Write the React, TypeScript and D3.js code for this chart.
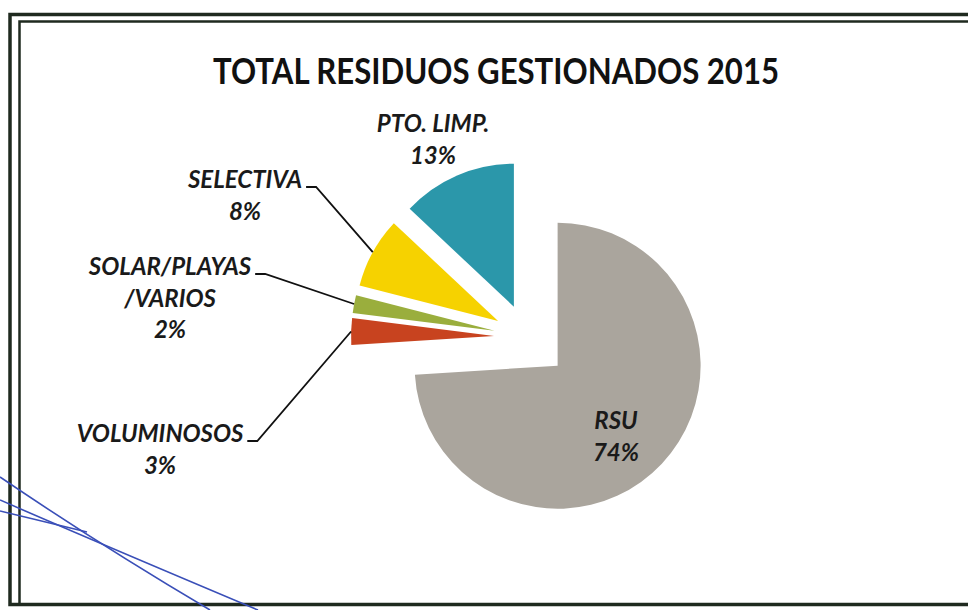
import React, { useEffect, useRef } from 'react';
import * as d3 from 'd3';

// chart data
const categories = ['RSU', 'VOLUMINOSOS', 'SOLAR/PLAYAS/VARIOS', 'SELECTIVA', 'PTO. LIMP.'];
const values = [74, 3, 2, 8, 13];
const labelLines = [['RSU'], ['VOLUMINOSOS'], ['SOLAR/PLAYAS', '/VARIOS'], ['SELECTIVA'], ['PTO. LIMP.']];
const title = 'TOTAL RESIDUOS GESTIONADOS 2015';

// styling
const colors = ['#aaa59d', '#c8431f', '#9aae3d', '#f6d200', '#2b97aa'];
const explode = [42, 33, 33, 33, 33];
const labelLayout = [
  { x: 616, y: 429, leader: false },
  { x: 160, y: 442, leader: true },
  { x: 170, y: 275, leader: true },
  { x: 245, y: 188, leader: true },
  { x: 433, y: 132, leader: false },
];

const W = 968;
const H = 610;
const cx = 527;
const cy = 337;
const radius = 143;
const lineHeight = 31.5;
const font = 'Lato, "Open Sans", sans-serif';

const App: React.FC = () => {
  const svgRef = useRef<SVGSVGElement | null>(null);

  useEffect(() => {
    const svg = d3.select(svgRef.current);
    svg.selectAll('*').remove();

    svg.append('rect').attr('width', W).attr('height', H).attr('fill', '#ffffff');

    // frame
    svg.append('rect')
      .attr('x', 10).attr('y', 14.5)
      .attr('width', W).attr('height', 590)
      .attr('fill', 'none').attr('stroke', '#1f2a1f').attr('stroke-width', 3.5);
    svg.append('path')
      .attr('d', `M19.5,604 L19.5,21.5 L${W},21.5`)
      .attr('fill', 'none').attr('stroke', '#1f2a1f').attr('stroke-width', 2.5);

    // title
    svg.append('text')
      .attr('x', 213).attr('y', 84)
      .attr('textLength', 566).attr('lengthAdjust', 'spacingAndGlyphs')
      .attr('font-family', font).attr('font-weight', 700).attr('font-size', 36)
      .attr('fill', '#111').text(title);

    const total = d3.sum(values);
    const pct = d3.format('.0%');
    const arcs = d3.pie<number>().sort(null).value(d => d)(values);
    const arc = d3.arc<d3.PieArcDatum<number>>().innerRadius(0).outerRadius(radius);

    const offset = (d: d3.PieArcDatum<number>, i: number) => {
      const a = (d.startAngle + d.endAngle) / 2;
      return [cx + explode[i] * Math.sin(a), cy - explode[i] * Math.cos(a)];
    };

    // slices
    svg.append('g')
      .selectAll('path')
      .data(arcs)
      .join('path')
      .attr('transform', (d, i) => `translate(${offset(d, i).join(',')})`)
      .attr('d', arc)
      .attr('fill', (d, i) => colors[i]);

    // labels
    const lg = svg.append('g')
      .attr('font-family', font).attr('font-weight', 700).attr('font-style', 'italic')
      .attr('font-size', 24).attr('fill', '#1a1a1a').attr('text-anchor', 'middle');

    arcs.forEach((d, i) => {
      const L = labelLayout[i];
      const lines = [...labelLines[i], pct(values[i] / total)];
      const t = lg.append('text').attr('aria-label', categories[i]);
      lines.forEach((s, k) => {
        t.append('tspan').attr('x', L.x).attr('y', L.y + k * lineHeight).text(s);
      });
      if (L.leader) {
        const first = t.select('tspan').node() as SVGTSpanElement;
        const w = first.getComputedTextLength();
        const x0 = L.x + w / 2 + 4;
        const y0 = L.y - 1;
        const [ox, oy] = offset(d, i);
        const a = (d.startAngle + d.endAngle) / 2;
        const ex = ox + radius * Math.sin(a);
        const ey = oy - radius * Math.cos(a);
        svg.append('path')
          .attr('d', `M${x0},${y0} L${x0 + 10},${y0} L${ex},${ey}`)
          .attr('fill', 'none').attr('stroke', '#111').attr('stroke-width', 1.8);
      }
    });

    // pen marks on the printed sheet
    const pen = svg.append('g').attr('fill', 'none').attr('stroke', '#3a4fb8').attr('stroke-width', 1.6);
    pen.append('path').attr('d', 'M0,477 Q100,545 210,610');
    pen.append('path').attr('d', 'M0,500 Q80,535 258,610');
    pen.append('path').attr('d', 'M0,511 L87,532');
  }, []);

  return (
    <svg
      ref={svgRef}
      width={W}
      height={H}
      style={{ position: 'absolute', left: 0, top: 0 }}
    />
  );
};

export default App;
